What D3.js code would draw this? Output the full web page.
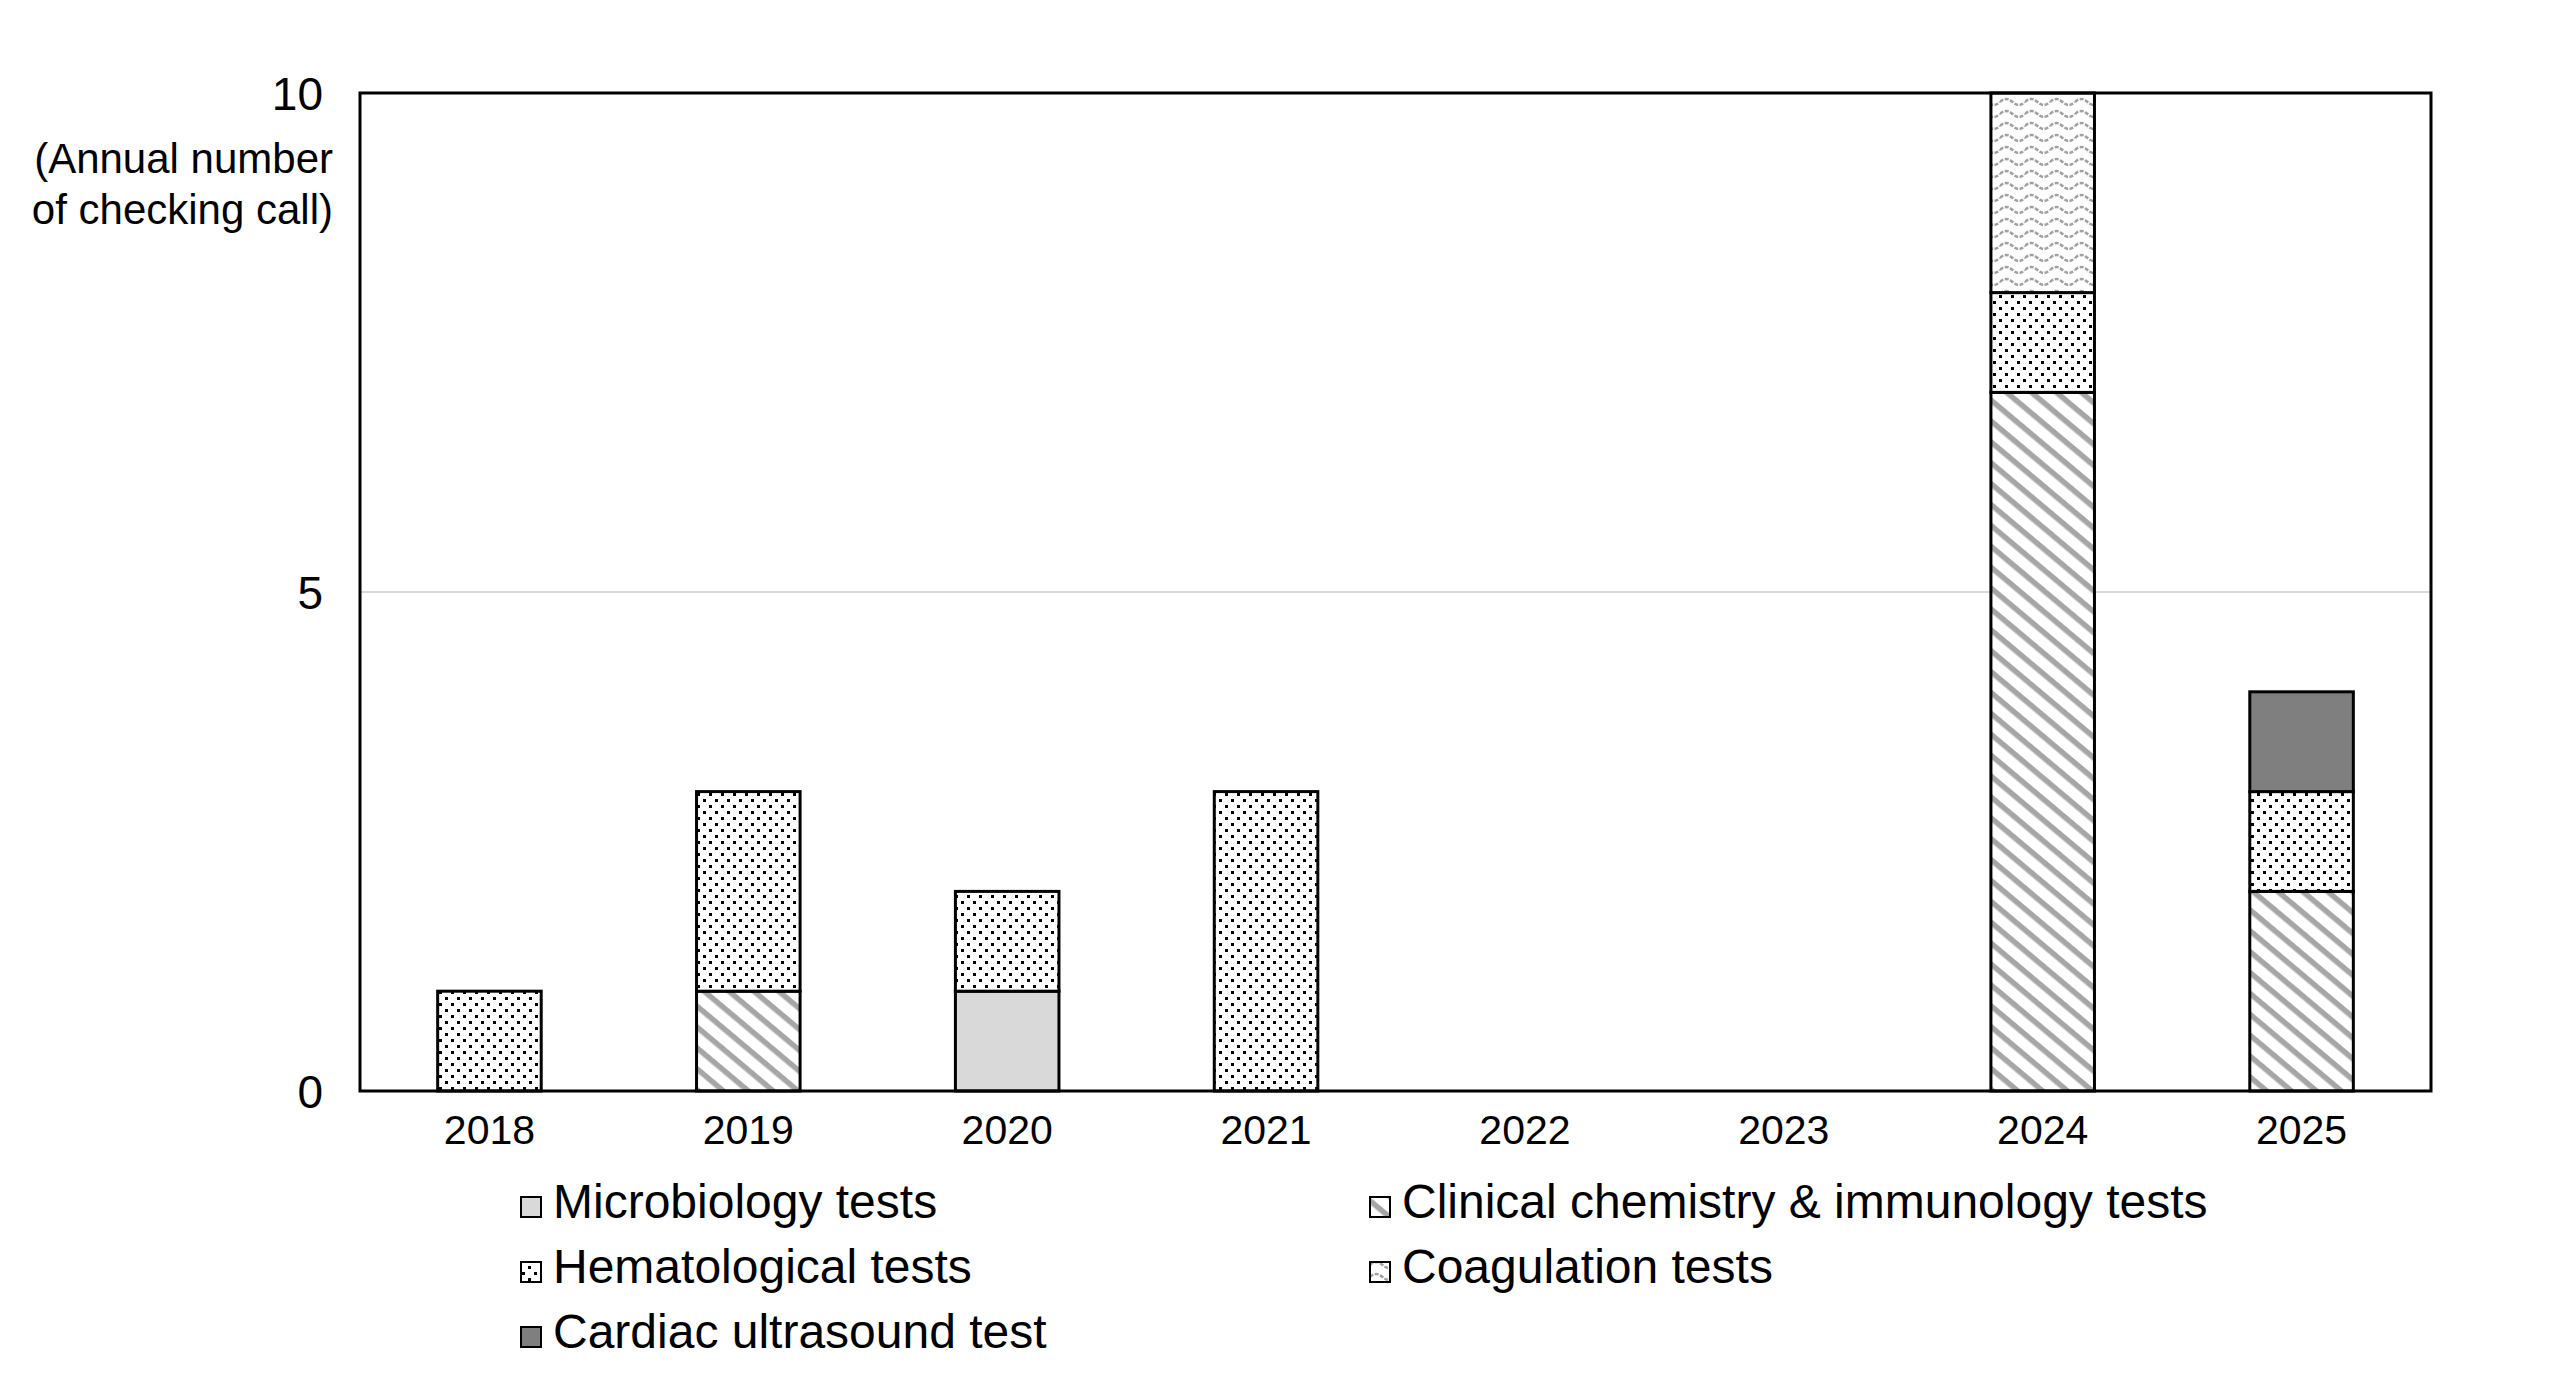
<!DOCTYPE html>
<html lang="en">
<head>
<meta charset="utf-8">
<script src="https://cdn.jsdelivr.net/npm/d3@7"></script>
<style>
  body { margin: 0; background: #fff; }
  svg { display: block; background-color: #fff; }
  text { font-family: "Liberation Sans", Arial, Helvetica, sans-serif; fill: #000; }
</style>
</head>
<body>
<script>
// data
var years = ["2018", "2019", "2020", "2021", "2022", "2023", "2024", "2025"];
var categories = ["Microbiology tests", "Clinical chemistry & immunology tests", "Hematological tests", "Coagulation tests", "Cardiac ultrasound test"];
var microbiology  = [0, 0, 1, 0, 0, 0, 0, 0];
var clinical      = [0, 1, 0, 0, 0, 0, 7, 2];
var hematological = [1, 2, 1, 3, 0, 0, 1, 1];
var coagulation   = [0, 0, 0, 0, 0, 0, 2, 0];
var cardiac       = [0, 0, 0, 0, 0, 0, 0, 1];
var yTicks = [0, 5, 10];
var yTitle = ["(Annual number", "of checking call)"];

// table for d3.stack
var series = [microbiology, clinical, hematological, coagulation, cardiac];
var table = years.map(function(y, i){
  var row = { year: y };
  categories.forEach(function(c, k){ row[c] = series[k][i]; });
  return row;
});

var width = 2560, height = 1380;
var plot = { left: 360, right: 2431, top: 93, bottom: 1091 };

var svg = d3.select("body").append("svg").attr("width", width).attr("height", height);
var defs = svg.append("defs");

// patterns (one per category, fill id by index)
// 0: plain light grey
// 1: downward diagonal stripes
var p1 = defs.append("pattern").attr("id", "pat1").attr("patternUnits", "userSpaceOnUse")
  .attr("width", 16).attr("height", 16).attr("patternTransform", "rotate(40)");
p1.append("rect").attr("width", 16).attr("height", 16).attr("fill", "#fff");
p1.append("rect").attr("y", 0).attr("width", 16).attr("height", 5.5).attr("fill", "#a6a6a6");
// 2: small black dots
var p2 = defs.append("pattern").attr("id", "pat2").attr("patternUnits", "userSpaceOnUse")
  .attr("width", 12).attr("height", 12);
p2.append("rect").attr("width", 12).attr("height", 12).attr("fill", "#fff");
p2.append("rect").attr("x", 1).attr("y", 1).attr("width", 3).attr("height", 3).attr("fill", "#000");
p2.append("rect").attr("x", 7).attr("y", 7).attr("width", 3).attr("height", 3).attr("fill", "#000");
// 3: grey wavy lines
var p3 = defs.append("pattern").attr("id", "pat3").attr("patternUnits", "userSpaceOnUse")
  .attr("width", 25).attr("height", 12);
p3.append("rect").attr("width", 25).attr("height", 12).attr("fill", "#fff");
p3.append("path").attr("d", "M0,6 Q6.25,0 12.5,6 T25,6")
  .attr("fill", "none").attr("stroke", "#a0a0a0").attr("stroke-width", 2.5).attr("stroke-dasharray", "4 1.5");

var fills = ["#d9d9d9", "url(#pat1)", "url(#pat2)", "url(#pat3)", "#7f7f7f"];

// scales
var x = d3.scaleBand().domain(years).range([plot.left, plot.right]).paddingInner(0.6).paddingOuter(0.3);
var y = d3.scaleLinear().domain([0, 10]).range([plot.bottom, plot.top]);

// grid line at 5
svg.append("g").selectAll("line")
  .data(yTicks.filter(function(d){ return d > 0 && d < 10; }))
  .enter().append("line")
  .attr("x1", plot.left).attr("x2", plot.right)
  .attr("y1", function(d){ return y(d); }).attr("y2", function(d){ return y(d); })
  .attr("stroke", "#d9d9d9").attr("stroke-width", 2);

// stacked bars
var stacked = d3.stack().keys(categories)(table);
svg.append("g").selectAll("g")
  .data(stacked)
  .enter().append("g")
  .attr("fill", function(d, i){ return fills[i]; })
  .selectAll("rect")
  .data(function(d){ return d.filter(function(s){ return s[1] - s[0] > 0; }); })
  .enter().append("rect")
  .attr("x", function(d){ return x(d.data.year); })
  .attr("width", x.bandwidth())
  .attr("y", function(d){ return y(d[1]); })
  .attr("height", function(d){ return y(d[0]) - y(d[1]); })
  .attr("stroke", "#000").attr("stroke-width", 3);

// plot frame
svg.append("rect")
  .attr("x", plot.left).attr("y", plot.top)
  .attr("width", plot.right - plot.left).attr("height", plot.bottom - plot.top)
  .attr("fill", "none").attr("stroke", "#000").attr("stroke-width", 3);

// y axis labels
var yAxis = svg.append("g").attr("transform", "translate(" + (plot.left - 37) + ",0)")
  .call(d3.axisLeft(y).tickValues(yTicks).tickSize(0).tickPadding(0));
yAxis.select(".domain").remove();
yAxis.selectAll("text").style("font-size", "46px").attr("dy", "0.36em")
  .style("font-family", "'Liberation Sans', Arial, sans-serif").attr("fill", "#000");

// y title
svg.append("g").selectAll("text")
  .data(yTitle)
  .enter().append("text")
  .attr("x", 333).attr("y", function(d, i){ return 173 + i * 51; })
  .attr("text-anchor", "end")
  .style("font-size", "42px")
  .text(function(d){ return d; });

// x axis labels
var xAxis = svg.append("g").attr("transform", "translate(0," + plot.bottom + ")")
  .call(d3.axisBottom(x).tickSize(0).tickPadding(24));
xAxis.select(".domain").remove();
xAxis.selectAll("text").style("font-size", "41px")
  .style("font-family", "'Liberation Sans', Arial, sans-serif").attr("fill", "#000");

// legend: two columns, three rows
var legendX = [521, 1370];
var legend = svg.append("g").selectAll("g")
  .data(categories)
  .enter().append("g")
  .attr("transform", function(d, i){
    return "translate(" + legendX[i % 2] + "," + (1218 + Math.floor(i / 2) * 65) + ")";
  });
legend.append("rect")
  .attr("x", 0).attr("y", -21).attr("width", 20).attr("height", 20)
  .attr("fill", function(d, i){ return fills[i]; })
  .attr("stroke", "#000").attr("stroke-width", 2);
legend.append("text")
  .attr("x", 32).attr("y", 0)
  .style("font-size", "48px")
  .text(function(d){ return d; });
</script>
</body>
</html>
